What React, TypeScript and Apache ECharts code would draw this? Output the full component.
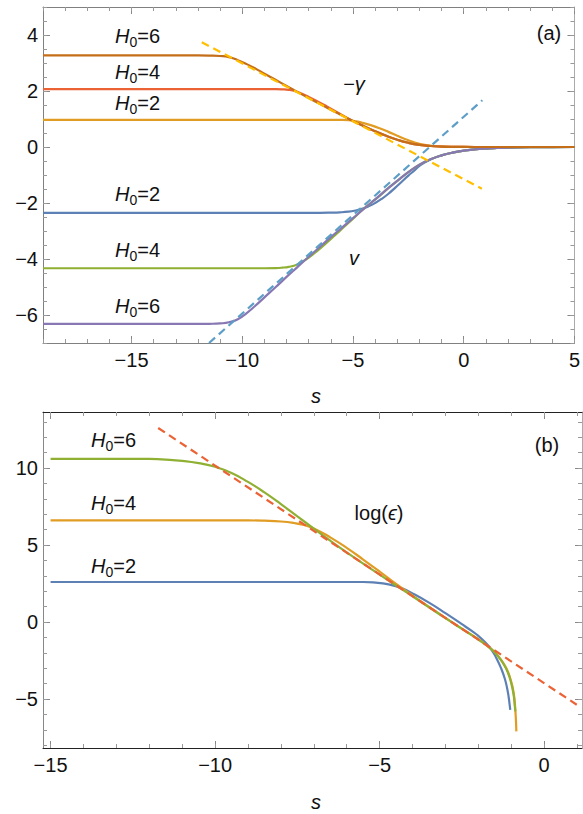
import React, { useEffect, useRef } from "react";
import * as echarts from "echarts";

// ---------- Panel (a) data ----------
const gammaH6: [number, number][] = [[-19,3.27],[-12,3.27],[-11.5,3.265],[-11,3.25],[-10.6,3.21],[-10.2,3.1],[-9.8,2.96],[-9.4,2.8],[-9,2.62],[-8.5,2.4],[-8,2.18],[-7.5,1.96],[-7,1.75],[-6.5,1.54],[-6,1.33],[-5.5,1.13],[-5,0.93],[-4.5,0.74],[-4,0.56],[-3.5,0.4],[-3,0.26],[-2.5,0.15],[-2,0.075],[-1.5,0.035],[-1,0.015],[-0.5,0.006],[0,0.002],[1,0],[5,0]];
const gammaH4: [number, number][] = [[-19,2.07],[-9,2.07],[-8.5,2.068],[-8.2,2.06],[-7.9,2.04],[-7.6,1.99],[-7.3,1.9],[-7,1.79],[-6.6,1.63],[-6.2,1.46],[-5.8,1.28],[-5.4,1.1],[-5,0.93],[-4.5,0.74],[-4,0.56],[-3.5,0.4],[-3,0.26],[-2.5,0.15],[-2,0.075],[-1.5,0.035],[-1,0.015],[-0.5,0.006],[0,0.002],[1,0],[5,0]];
const gammaH2: [number, number][] = [[-19,0.97],[-6,0.97],[-5.5,0.968],[-5.2,0.955],[-4.9,0.92],[-4.6,0.87],[-4.2,0.78],[-3.8,0.67],[-3.4,0.54],[-3,0.4],[-2.6,0.27],[-2.3,0.185],[-2,0.115],[-1.7,0.065],[-1.3,0.03],[-0.8,0.01],[0,0.002],[1,0],[5,0]];
const vH2: [number, number][] = [[-19,-2.35],[-6.5,-2.35],[-6,-2.345],[-5.6,-2.335],[-5.2,-2.31],[-4.9,-2.27],[-4.6,-2.21],[-4.3,-2.12],[-4,-2.0],[-3.7,-1.85],[-3.4,-1.67],[-3.1,-1.46],[-2.8,-1.24],[-2.5,-1.02],[-2.2,-0.82],[-2,-0.67],[-1.7,-0.53],[-1.4,-0.41],[-1,-0.3],[-0.5,-0.2],[0,-0.13],[0.5,-0.085],[1,-0.055],[1.5,-0.035],[2,-0.022],[3,-0.008],[4,-0.002],[5,0]];
const vH4: [number, number][] = [[-19,-4.33],[-9,-4.33],[-8.5,-4.325],[-8.2,-4.31],[-7.9,-4.28],[-7.6,-4.22],[-7.3,-4.1],[-7,-3.95],[-6.6,-3.7],[-6.2,-3.43],[-5.8,-3.14],[-5.4,-2.85],[-5,-2.56],[-4.6,-2.26],[-4.2,-2.0],[-3.8,-1.75],[-3.5,-1.53],[-3,-1.21],[-2.5,-0.9],[-2,-0.63],[-1.5,-0.44],[-1,-0.3],[-0.5,-0.2],[0,-0.13],[0.5,-0.085],[1,-0.055],[1.5,-0.035],[2,-0.022],[3,-0.008],[4,-0.002],[5,0]];
const vH6: [number, number][] = [[-19,-6.32],[-12,-6.32],[-11.5,-6.315],[-11,-6.3],[-10.6,-6.26],[-10.2,-6.15],[-9.8,-5.93],[-9.4,-5.66],[-9,-5.37],[-8.5,-5.01],[-8,-4.64],[-7.5,-4.28],[-7,-3.92],[-6.5,-3.57],[-6,-3.22],[-5.5,-2.88],[-5,-2.54],[-4.5,-2.2],[-4,-1.87],[-3.5,-1.53],[-3,-1.21],[-2.5,-0.9],[-2,-0.63],[-1.5,-0.44],[-1,-0.3],[-0.5,-0.2],[0,-0.13],[0.5,-0.085],[1,-0.055],[1.5,-0.035],[2,-0.022],[3,-0.008],[4,-0.002],[5,0]];
const gammaAsym: [number, number][] = [[-11.83,3.74],[0.82,-1.49]];
const vAsym: [number, number][] = [[-11.5,-7.0],[0.84,1.67]];

// ---------- Panel (b) data ----------
const epsH2: [number, number][] = [[-15,2.6],[-5.5,2.6],[-5.2,2.58],[-4.9,2.51],[-4.6,2.38],[-4.3,2.17],[-4,1.86],[-3.5,1.26],[-3,0.58],[-2.5,-0.14],[-2.2,-0.58],[-2,-0.9],[-1.8,-1.3],[-1.6,-1.8],[-1.45,-2.35],[-1.3,-3.05],[-1.2,-3.65],[-1.13,-4.25],[-1.08,-4.85],[-1.05,-5.35],[-1.03,-5.7]];
const epsH4: [number, number][] = [[-15,6.6],[-9,6.6],[-8.5,6.58],[-8,6.53],[-7.6,6.43],[-7.3,6.3],[-7,6.08],[-6.5,5.5],[-6,4.82],[-5.5,4.06],[-5,3.28],[-4.5,2.48],[-4,1.72],[-3.5,0.99],[-3,0.27],[-2.5,-0.43],[-2,-1.12],[-1.7,-1.59],[-1.5,-1.96],[-1.3,-2.47],[-1.15,-3.0],[-1.05,-3.52],[-0.97,-4.12],[-0.92,-4.7],[-0.89,-5.3],[-0.87,-5.9],[-0.855,-6.5],[-0.845,-7.1]];
const epsH6: [number, number][] = [[-15,10.6],[-12.5,10.6],[-12,10.59],[-11.5,10.55],[-11,10.47],[-10.5,10.32],[-10,10.08],[-9.5,9.68],[-9,9.1],[-8.5,8.42],[-8,7.66],[-7.5,6.86],[-7,6.07],[-6.5,5.28],[-6,4.52],[-5.5,3.79],[-5,3.08],[-4.5,2.37],[-4,1.67],[-3.5,0.96],[-3,0.25],[-2.5,-0.44],[-2,-1.13],[-1.7,-1.6],[-1.5,-1.98],[-1.3,-2.5],[-1.15,-3.05],[-1.05,-3.6],[-0.97,-4.25],[-0.92,-4.85],[-0.89,-5.5],[-0.875,-5.8]];
const epsAsym: [number, number][] = [[-11.73,12.6],[0.99,-5.37]];

// ---------- ticks ----------
const xTicksA = [-15, -10, -5, 0, 5];
const yTicksA = [-6, -4, -2, 0, 2, 4];
const xMinorA = [-19,-18,-17,-16,-15,-14,-13,-12,-11,-10,-9,-8,-7,-6,-5,-4,-3,-2,-1,0,1,2,3,4,5];
const yMinorA = [-7,-6.5,-6,-5.5,-5,-4.5,-4,-3.5,-3,-2.5,-2,-1.5,-1,-0.5,0,0.5,1,1.5,2,2.5,3,3.5,4,4.5,5];
const xTicksB = [-15, -10, -5, 0];
const yTicksB = [-5, 0, 5, 10];
const xMinorB = [-15,-14,-13,-12,-11,-10,-9,-8,-7,-6,-5,-4,-3,-2,-1,0,1];
const yMinorB = [-8,-7,-6,-5,-4,-3,-2,-1,0,1,2,3,4,5,6,7,8,9,10,11,12,13];

const FONT = '"Liberation Sans", Arial, Helvetica, sans-serif';
const C = {
  blue: "#5E81B5", orange: "#E19C24", green: "#8FB032", red: "#EB6235",
  purple: "#8778B3", brown: "#C56E1A", lightblue: "#5D9EC7", yellow: "#FFBF00",
};

const fmt = (v: number) => (v < 0 ? "\u2212" + Math.abs(v) : String(v));

function frameAxes(dim: "x" | "y", gridIndex: number, min: number, max: number,
  majors: number[], minors: number[], lineColor: string, sideColor: string) {
  const pos = dim === "x" ? ["bottom", "top"] : ["left", "right"];
  const out: any[] = [];
  pos.forEach((p, k) => {
    const col = k === 0 ? lineColor : sideColor;
    out.push({
      gridIndex, type: "value", min, max, position: p,
      axisLine: { show: true, onZero: false, lineStyle: { color: col, width: 1 } },
      axisTick: { show: true, inside: true, length: 7, customValues: majors, lineStyle: { color: "#888", width: 1 } },
      axisLabel: k === 0 ? {
        show: true, customValues: majors, formatter: fmt, fontSize: 20, color: "#111",
        fontFamily: FONT, margin: dim === "x" ? 7 : 5,
      } : { show: false },
      splitLine: { show: false },
    });
    out.push({
      gridIndex, type: "value", min, max, position: p,
      axisLine: { show: false, onZero: false },
      axisTick: { show: true, inside: true, length: 4, customValues: minors, lineStyle: { color: "#999", width: 1 } },
      axisLabel: { show: false },
      splitLine: { show: false },
    });
  });
  return out;
}

function line(data: [number, number][], color: string, xi: number, yi: number, dashed = false, z = 2) {
  return {
    type: "line", data, xAxisIndex: xi, yAxisIndex: yi, symbol: "none", showSymbol: false,
    smooth: dashed ? false : 0.5, z,
    lineStyle: { color, width: 2.2, type: dashed ? [8, 5] : "solid" },
    silent: true,
  };
}

function hLabel(x: number, y: number, n: string) {
  return {
    type: "text", x, y, silent: true,
    style: {
      text: `{i|H}{s|0}{n|=${n}}`,
      rich: {
        i: { fontStyle: "italic", fontSize: 20, fontFamily: FONT, fill: "#111", lineHeight: 26 },
        s: { fontSize: 14, fontFamily: FONT, fill: "#111", verticalAlign: "bottom", lineHeight: 14 },
        n: { fontSize: 20, fontFamily: FONT, fill: "#111", lineHeight: 26 },
      },
      textAlign: "left", textVerticalAlign: "middle", align: "left", verticalAlign: "middle",
    },
  };
}

function plainText(x: number, y: number, text: string, italic = false, size = 20) {
  return {
    type: "text", x, y, silent: true,
    style: {
      text, fontSize: size, fontFamily: FONT, fontStyle: italic ? "italic" : "normal", fill: "#111",
      textAlign: "center", textVerticalAlign: "middle", align: "center", verticalAlign: "middle",
    },
  };
}

export default function App() {
  const ref = useRef<HTMLDivElement>(null);
  useEffect(() => {
    if (!ref.current) return;
    const chart = echarts.init(ref.current, null, { renderer: "svg" });
    const xAxes = [
      ...frameAxes("x", 0, -19, 5, xTicksA, xMinorA, "#808080", "#808080"),
      ...frameAxes("x", 1, -15.23, 1.15, xTicksB, xMinorB, "#222", "#222"),
    ];
    const yAxes = [
      ...frameAxes("y", 0, -7, 5, yTicksA, yMinorA, "#808080", "#aaa"),
      ...frameAxes("y", 1, -8.18, 13.64, yTicksB, yMinorB, "#888", "#aaa"),
    ];
    const option: any = {
      animation: false,
      backgroundColor: "#fff",
      grid: [
        { left: 43, top: 7, width: 534, height: 336 },
        { left: 43, top: 412, width: 539, height: 336 },
      ],
      xAxis: xAxes,
      yAxis: yAxes,
      series: [
        line(vH2, C.blue, 0, 0),
        line(gammaH2, C.orange, 0, 0),
        line(vH4, C.green, 0, 0),
        line(gammaH4, C.red, 0, 0),
        line(vH6, C.purple, 0, 0),
        line(gammaH6, C.brown, 0, 0),
        line(vAsym, C.lightblue, 0, 0, true, 3),
        line(gammaAsym, C.yellow, 0, 0, true, 3),
        line(epsH2, C.blue, 4, 4),
        line(epsH4, C.orange, 4, 4),
        line(epsH6, C.green, 4, 4),
        line(epsAsym, C.red, 4, 4, true, 3),
      ],
      graphic: [
        hLabel(115, 36, "6"),
        hLabel(115, 72, "4"),
        hLabel(115, 103, "2"),
        hLabel(115, 194, "2"),
        hLabel(115, 250, "4"),
        hLabel(115, 306, "6"),
        {
          type: "text", x: 354, y: 84, silent: true,
          style: {
            text: "{m|\u2212}{g|\u03b3}",
            rich: {
              m: { fontSize: 20, fontFamily: FONT, fill: "#111" },
              g: { fontSize: 20, fontFamily: FONT, fontStyle: "italic", fill: "#111" },
            },
            textAlign: "center", textVerticalAlign: "middle", align: "center", verticalAlign: "middle",
          },
        },
        plainText(354, 258, "v", true),
        plainText(549, 33, "(a)"),
        plainText(316, 396, "s", true),
        hLabel(91, 440, "6"),
        hLabel(91, 503, "4"),
        hLabel(91, 566, "2"),
        {
          type: "text", x: 379, y: 513, silent: true,
          style: {
            text: "{a|log(}{e|\u03f5}{a|)}",
            rich: {
              a: { fontSize: 20, fontFamily: FONT, fill: "#111" },
              e: { fontSize: 20, fontFamily: FONT, fontStyle: "italic", fill: "#111" },
            },
            textAlign: "center", textVerticalAlign: "middle", align: "center", verticalAlign: "middle",
          },
        },
        plainText(547, 445, "(b)"),
        plainText(316, 802, "s", true),
      ],
    };
    chart.setOption(option);
    return () => chart.dispose();
  }, []);
  return (
    <div
      ref={ref}
      style={{ position: "absolute", left: 0, top: 0, width: 583, height: 814, background: "#fff" }}
    />
  );
}
